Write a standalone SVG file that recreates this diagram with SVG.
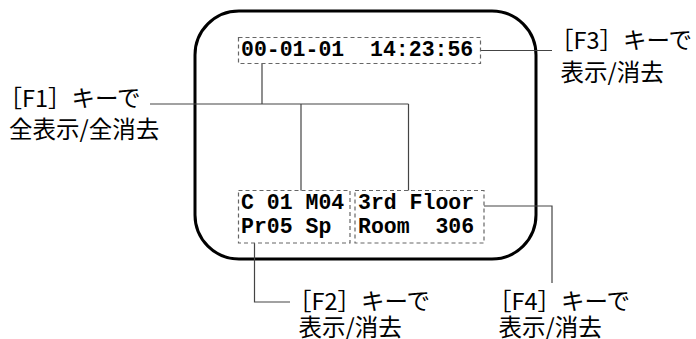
<svg xmlns="http://www.w3.org/2000/svg" width="696" height="339" viewBox="0 0 696 339">
<style>
.frame{fill:none;stroke:#000;stroke-width:3}
.dbox{fill:none;stroke:#666;stroke-width:1.2;stroke-dasharray:4 3}
.mono{font-family:"Liberation Mono",monospace;font-weight:bold;font-size:21.5px;fill:#000;white-space:pre}
.jp{font-family:"Noto Sans CJK JP",sans-serif;font-size:23.5px;fill:#000}
.conn{fill:none;stroke:#444;stroke-width:1.2}
</style>
<rect width="696" height="339" fill="#fff"/>
<rect class="frame" x="195" y="11" width="341" height="248" rx="44" ry="44"/>
<g id="connectors">
<polyline class="conn" points="262,63.5 262,104"/>
<polyline class="conn" points="150,104 408.5,104"/>
<polyline class="conn" points="301,104 301,190.5"/>
<polyline class="conn" points="408.5,104 408.5,190.5"/>
<polyline class="conn" points="481,50.5 552,50.5"/>
<polyline class="conn" points="484,206 552,206 552,283"/>
<polyline class="conn" points="254.5,243 254.5,302 290,302"/>
</g>
<g id="datetime">
<rect class="dbox" x="238.5" y="37.5" width="242" height="26"/>
<text class="mono" x="241" y="56" xml:space="preserve">00-01-01  14:23:56</text>
</g>
<g id="camera">
<rect class="dbox" x="238.5" y="190.5" width="111.5" height="52.5"/>
<text class="mono" x="241" y="208.5" xml:space="preserve">C 01 M04</text>
<text class="mono" x="241" y="233" xml:space="preserve">Pr05 Sp</text>
</g>
<g id="location">
<rect class="dbox" x="355" y="190.5" width="129" height="52.5"/>
<text class="mono" x="358" y="208.5" xml:space="preserve">3rd Floor</text>
<text class="mono" x="358" y="233" xml:space="preserve">Room  306</text>
</g>
<g id="label-f1">
<text class="jp" x="-1.5" y="106.5">［F1］キーで</text>
<text class="jp" x="9" y="138">全表示/全消去</text>
</g>
<g id="label-f3">
<text class="jp" x="550" y="49">［F3］キーで</text>
<text class="jp" x="560.5" y="81">表示/消去</text>
</g>
<g id="label-f2">
<text class="jp" x="288" y="310">［F2］キーで</text>
<text class="jp" x="298.5" y="336">表示/消去</text>
</g>
<g id="label-f4">
<text class="jp" x="488" y="310">［F4］キーで</text>
<text class="jp" x="498.5" y="336">表示/消去</text>
</g>
</svg>
